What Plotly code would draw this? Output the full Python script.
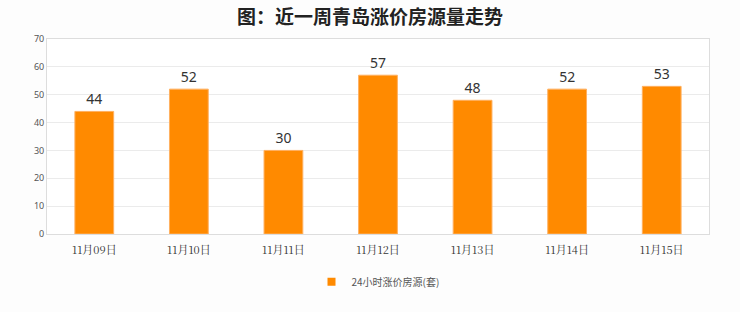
import plotly.graph_objects as go

categories = ["11月09日", "11月10日", "11月11日", "11月12日", "11月13日", "11月14日", "11月15日"]
values = [44, 52, 30, 57, 48, 52, 53]
series_name = "24小时涨价房源(套)"
title = "图：近一周青岛涨价房源量走势"
bar_color = "#ff8a00"

fig = go.Figure()
fig.add_trace(go.Bar(
    x=categories, y=values, name=series_name, showlegend=False,
    marker=dict(color=bar_color, line=dict(color="#ffb060", width=1)),
    width=0.41,
    text=values, textposition="outside",
    textfont=dict(size=14, color="#333333", family="Noto Sans"),
    cliponaxis=False,
))
# legend entry with a small square marker
fig.add_trace(go.Scatter(
    x=[None], y=[None], mode="markers", name=series_name,
    marker=dict(symbol="square", size=8, color=bar_color),
))

fig.update_layout(
    width=740, height=312,
    margin=dict(l=47, r=31, t=39, b=78),
    paper_bgcolor="#fdfdfd", plot_bgcolor="#ffffff",
    title=dict(text="<b>" + title + "</b>", x=0.5, xanchor="center", y=0.945, yanchor="middle",
               font=dict(size=19, color="#222222", family="Noto Sans CJK SC")),
    showlegend=True,
    legend=dict(orientation="h", x=0.5, xanchor="center", y=-0.245, yanchor="middle",
                font=dict(size=10, color="#555555", family="Noto Sans CJK SC")),
)
fig.update_xaxes(showline=True, linecolor="#dddddd", mirror=True, ticks="",
                 ticklabelstandoff=6,
                 tickfont=dict(size=11, color="#333333", family="Noto Serif CJK SC, Noto Sans CJK SC"),
                 showgrid=False)
fig.update_yaxes(range=[0, 70], dtick=10, showline=True, linecolor="#dddddd", mirror=True,
                 gridcolor="#ebebeb", ticks="", zeroline=False,
                 tickfont=dict(size=9, color="#555555", family="Noto Sans"))

fig.write_html("out.html")
